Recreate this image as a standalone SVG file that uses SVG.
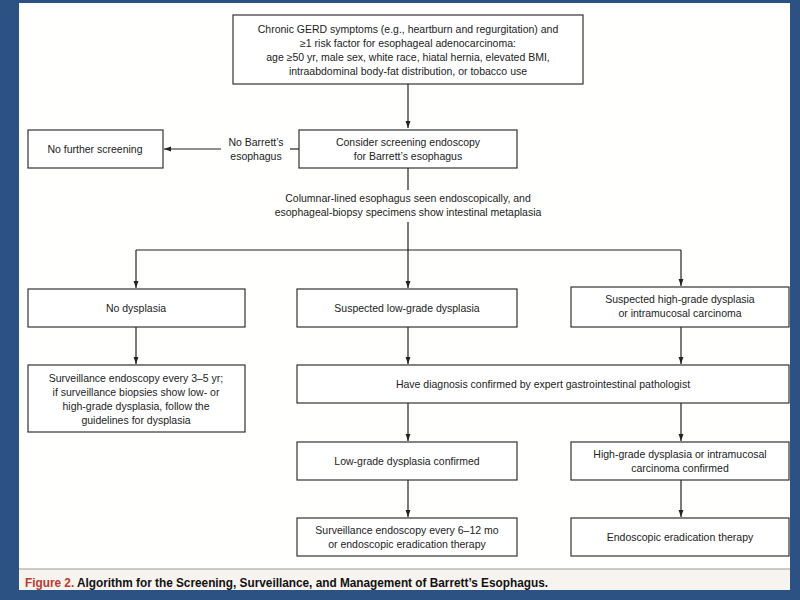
<svg xmlns="http://www.w3.org/2000/svg" width="800" height="600" viewBox="0 0 800 600">
<defs>
<marker id="ah" viewBox="0 0 10 10" refX="10" refY="5" markerWidth="7" markerHeight="7" markerUnits="userSpaceOnUse" orient="auto">
<path d="M0,1.5 L10,5 L0,8.5 Z" fill="#222"/>
</marker>
<style>
.box{fill:#fff;stroke:#333;stroke-width:1.2}
.t{font-family:"Liberation Sans",Arial,sans-serif;font-size:10.5px;fill:#222;text-anchor:middle}
.c{stroke:#222;stroke-width:1.2;fill:none}
.a{stroke:#222;stroke-width:1.2;fill:none;marker-end:url(#ah)}
</style>
</defs>
<rect x="0" y="0" width="800" height="600" fill="#2b5283"/>
<rect x="19" y="3" width="771" height="566" fill="#fffffd"/>
<rect x="19" y="569" width="771" height="21" fill="#f7f3ee"/>
<line x1="19" y1="569" x2="790" y2="569" stroke="#999" stroke-width="1"/>
<text x="25" y="587" font-family="Liberation Sans,Arial,sans-serif" font-size="12" font-weight="bold" textLength="523" lengthAdjust="spacingAndGlyphs"><tspan fill="#c0392b">Figure 2.</tspan><tspan fill="#111"> Algorithm for the Screening, Surveillance, and Management of Barrett’s Esophagus.</tspan></text>

<g id="connectors">
<path class="a" d="M408,84 V128"/>
<path class="c" d="M299,149 H290"/>
<path class="a" d="M221,149 H164"/>
<path class="c" d="M408,168 V190"/>
<path class="c" d="M408,222 V250 M136,250 H681"/>
<path class="a" d="M136,250 V288"/>
<path class="a" d="M408,250 V288"/>
<path class="a" d="M681,250 V286"/>
<path class="a" d="M136,327 V364"/>
<path class="a" d="M408,327 V364"/>
<path class="a" d="M681,327 V364"/>
<path class="a" d="M408,403 V441"/>
<path class="a" d="M681,403 V441"/>
<path class="a" d="M408,480 V517"/>
<path class="a" d="M681,480 V517"/>
</g>

<g id="n-top">
<rect class="box" x="233" y="15" width="350" height="69"/>
<text class="t" x="408" y="33">Chronic GERD symptoms (e.g., heartburn and regurgitation) and</text>
<text class="t" x="408" y="47">≥1 risk factor for esophageal adenocarcinoma:</text>
<text class="t" x="408" y="61">age ≥50 yr, male sex, white race, hiatal hernia, elevated BMI,</text>
<text class="t" x="408" y="75">intraabdominal body-fat distribution, or tobacco use</text>
</g>
<g id="n-consider">
<rect class="box" x="299" y="130" width="218" height="38"/>
<text class="t" x="408" y="146">Consider screening endoscopy</text>
<text class="t" x="408" y="160">for Barrett’s esophagus</text>
</g>
<g id="l-nobarrett">
<text class="t" x="256" y="146">No Barrett’s</text>
<text class="t" x="256" y="160">esophagus</text>
</g>
<g id="n-nofurther">
<rect class="box" x="28" y="130" width="135" height="38"/>
<text class="t" x="95" y="153">No further screening</text>
</g>
<g id="l-columnar">
<text class="t" x="408" y="202">Columnar-lined esophagus seen endoscopically, and</text>
<text class="t" x="408" y="216">esophageal-biopsy specimens show intestinal metaplasia</text>
</g>
<g id="n-nodysplasia">
<rect class="box" x="28" y="289" width="217" height="38"/>
<text class="t" x="136" y="312">No dysplasia</text>
</g>
<g id="n-susplow">
<rect class="box" x="297" y="289" width="220" height="38"/>
<text class="t" x="407" y="312">Suspected low-grade dysplasia</text>
</g>
<g id="n-susphigh">
<rect class="box" x="571" y="287" width="218" height="40"/>
<text class="t" x="680" y="303">Suspected high-grade dysplasia</text>
<text class="t" x="680" y="317">or intramucosal carcinoma</text>
</g>
<g id="n-surv35">
<rect class="box" x="28" y="365" width="217" height="67"/>
<text class="t" x="136" y="382">Surveillance endoscopy every 3–5 yr;</text>
<text class="t" x="136" y="396">if surveillance biopsies show low- or</text>
<text class="t" x="136" y="410">high-grade dysplasia, follow the</text>
<text class="t" x="136" y="424">guidelines for dysplasia</text>
</g>
<g id="n-diagnosis">
<rect class="box" x="297" y="365" width="492" height="38"/>
<text class="t" x="543" y="388">Have diagnosis confirmed by expert gastrointestinal pathologist</text>
</g>
<g id="n-lowconf">
<rect class="box" x="297" y="442" width="220" height="38"/>
<text class="t" x="407" y="465">Low-grade dysplasia confirmed</text>
</g>
<g id="n-highconf">
<rect class="box" x="571" y="442" width="218" height="38"/>
<text class="t" x="680" y="458">High-grade dysplasia or intramucosal</text>
<text class="t" x="680" y="472">carcinoma confirmed</text>
</g>
<g id="n-surv612">
<rect class="box" x="297" y="518" width="220" height="38"/>
<text class="t" x="407" y="534">Surveillance endoscopy every 6–12 mo</text>
<text class="t" x="407" y="548">or endoscopic eradication therapy</text>
</g>
<g id="n-eradication">
<rect class="box" x="571" y="518" width="218" height="38"/>
<text class="t" x="680" y="541">Endoscopic eradication therapy</text>
</g>
</svg>
